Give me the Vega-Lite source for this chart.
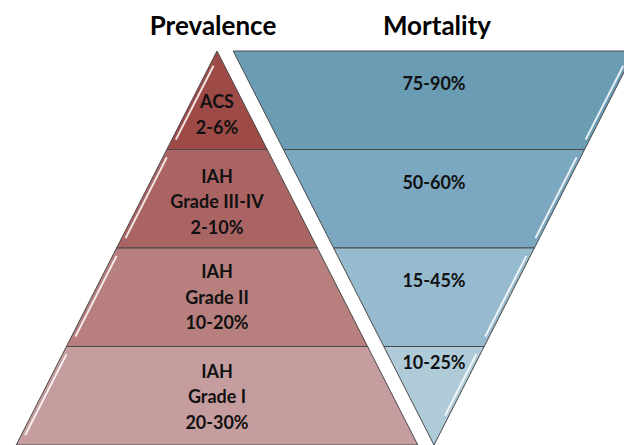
{
  "$schema": "https://vega.github.io/schema/vega-lite/v6.json",
  "width": 624,
  "height": 445,
  "padding": 0,
  "autosize": {"type": "none"},
  "background": "white",
  "config": {"view": {"stroke": null}},
  "datasets": {
    "tiers": [
      {"tier": "L1", "level": 0, "left": 217, "right": 217},
      {"tier": "L1", "level": 1, "left": 166.8, "right": 267.2},
      {"tier": "L2", "level": 1, "left": 166.8, "right": 267.2},
      {"tier": "L2", "level": 2, "left": 116.6, "right": 317.4},
      {"tier": "L3", "level": 2, "left": 116.6, "right": 317.4},
      {"tier": "L3", "level": 3, "left": 66.4, "right": 367.6},
      {"tier": "L4", "level": 3, "left": 66.4, "right": 367.6},
      {"tier": "L4", "level": 4, "left": 16.2, "right": 417.8},
      {"tier": "R1", "level": 0, "left": 233.2, "right": 634.8},
      {"tier": "R1", "level": 1, "left": 283.4, "right": 584.6},
      {"tier": "R2", "level": 1, "left": 283.4, "right": 584.6},
      {"tier": "R2", "level": 2, "left": 333.6, "right": 534.4},
      {"tier": "R3", "level": 2, "left": 333.6, "right": 534.4},
      {"tier": "R3", "level": 3, "left": 383.8, "right": 484.2},
      {"tier": "R4", "level": 3, "left": 383.8, "right": 484.2},
      {"tier": "R4", "level": 4, "left": 434, "right": 434}
    ],
    "glints": [
      {"seg": "gL1", "level": 0.15, "x": 213.5},
      {"seg": "gL1", "level": 0.9, "x": 175.8},
      {"seg": "gL2", "level": 1.08, "x": 166.8},
      {"seg": "gL2", "level": 1.9, "x": 125.6},
      {"seg": "gL3", "level": 2.08, "x": 116.6},
      {"seg": "gL3", "level": 2.9, "x": 75.4},
      {"seg": "gL4", "level": 3.08, "x": 66.4},
      {"seg": "gL4", "level": 3.9, "x": 25.2},
      {"seg": "gR1", "level": 0.15, "x": 623.3},
      {"seg": "gR1", "level": 0.9, "x": 585.6},
      {"seg": "gR2", "level": 1.08, "x": 576.6},
      {"seg": "gR2", "level": 1.9, "x": 535.4},
      {"seg": "gR3", "level": 2.08, "x": 526.4},
      {"seg": "gR3", "level": 2.9, "x": 485.2},
      {"seg": "gR4", "level": 3.08, "x": 476.2},
      {"seg": "gR4", "level": 3.7, "x": 445.1}
    ],
    "labels": [
      {"text": "ACS\n2-6%", "x": 217, "level": 0.528},
      {"text": "IAH\nGrade III-IV\n2-10%", "x": 217, "level": 1.289},
      {"text": "IAH\nGrade II\n10-20%", "x": 217, "level": 2.254},
      {"text": "IAH\nGrade I\n20-30%", "x": 217, "level": 3.269},
      {"text": "75-90%", "x": 434, "level": 0.345},
      {"text": "50-60%", "x": 434, "level": 1.35},
      {"text": "15-45%", "x": 434, "level": 2.345},
      {"text": "10-25%", "x": 434, "level": 3.178}
    ],
    "titles": [
      {"text": "Prevalence", "x": 213, "level": -0.245},
      {"text": "Mortality", "x": 437, "level": -0.245}
    ]
  },
  "layer": [
    {
      "data": {"name": "tiers"},
      "mark": {"type": "area", "orient": "horizontal", "stroke": "#4a4a4a", "strokeWidth": 1, "clip": true, "fillOpacity": 1},
      "encoding": {
        "y": {"field": "level", "type": "quantitative", "scale": {"domain": [-0.5178, 4], "reverse": true, "nice": false, "zero": false}, "axis": null},
        "x": {"field": "left", "type": "quantitative", "stack": null, "scale": {"domain": [0, 624], "nice": false, "zero": false}, "axis": null},
        "x2": {"field": "right"},
        "color": {
          "field": "tier", "type": "nominal", "legend": null,
          "scale": {
            "domain": ["L1", "L2", "L3", "L4", "R1", "R2", "R3", "R4"],
            "range": ["#9e4b48", "#ab6464", "#b77f7e", "#c69d9e", "#6a9cb4", "#7ba7c0", "#96bace", "#afcbd8"]
          }
        }
      }
    },
    {
      "data": {"name": "glints"},
      "mark": {"type": "line", "stroke": "white", "strokeWidth": 2, "opacity": 0.85, "clip": true},
      "encoding": {
        "y": {"field": "level", "type": "quantitative"},
        "x": {"field": "x", "type": "quantitative"},
        "detail": {"field": "seg"},
        "order": {"field": "level", "type": "quantitative"}
      }
    },
    {
      "data": {"name": "labels"},
      "mark": {"type": "text", "font": "Lato", "fontWeight": "bold", "fontSize": 18, "lineHeight": 25.5, "lineBreak": "\n", "align": "center", "baseline": "middle", "color": "#111111"},
      "encoding": {
        "y": {"field": "level", "type": "quantitative"},
        "x": {"field": "x", "type": "quantitative"},
        "text": {"field": "text"}
      }
    },
    {
      "data": {"name": "titles"},
      "mark": {"type": "text", "font": "Lato", "fontWeight": "bold", "fontSize": 26, "align": "center", "baseline": "middle", "color": "#000000"},
      "encoding": {
        "y": {"field": "level", "type": "quantitative"},
        "x": {"field": "x", "type": "quantitative"},
        "text": {"field": "text"}
      }
    }
  ]
}
